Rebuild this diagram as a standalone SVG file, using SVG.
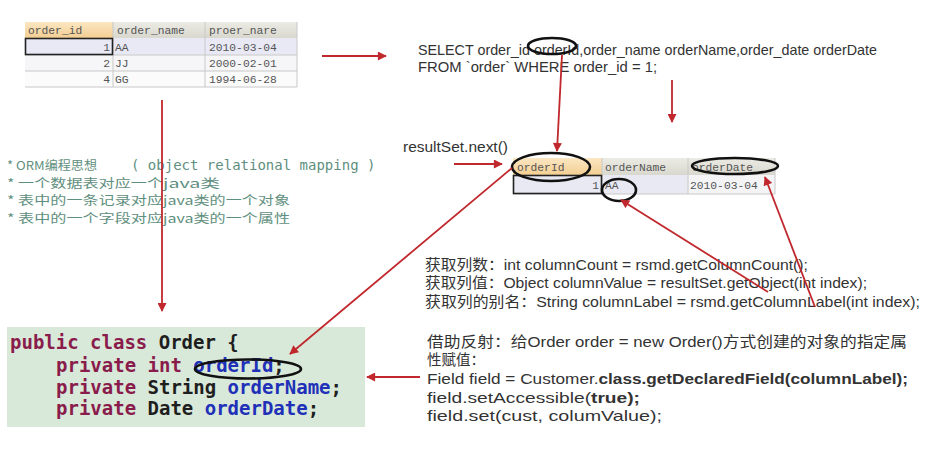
<svg xmlns="http://www.w3.org/2000/svg" width="926" height="467" viewBox="0 0 926 467">
<defs>
  <marker id="ah" viewBox="0 0 10 10" refX="9" refY="5" markerWidth="10" markerHeight="9" markerUnits="userSpaceOnUse" orient="auto">
    <path d="M0,0 L10,5 L0,10 z" fill="#c0282d"/>
  </marker>
  <linearGradient id="og" x1="0" y1="0" x2="0" y2="1">
    <stop offset="0" stop-color="#fbe6c2"/>
    <stop offset="1" stop-color="#f3cf92"/>
  </linearGradient>
  <linearGradient id="gg" x1="0" y1="0" x2="0" y2="1">
    <stop offset="0" stop-color="#ebebe4"/>
    <stop offset="1" stop-color="#d9d8cf"/>
  </linearGradient>
</defs>
<style>
  .tm { font-family: "Liberation Mono", "DejaVu Sans Mono", monospace; font-size: 11.3px; fill: #555; }
  .grid { fill: none; stroke: #c8c8c8; stroke-width: 1; }
  .sans { font-family: "Liberation Sans", "Noto Sans CJK SC", sans-serif; font-size: 14.5px; fill: #333; }
  .b { font-weight: bold; }
  .note { font-family: "DejaVu Sans Mono", "Noto Sans CJK SC", monospace; font-size: 14px; fill: #5f8f80; }
  .notecjk { font-family: "Noto Sans CJK SC", sans-serif; font-size: 12px; fill: #5f8f80; }
  .code { font-family: "DejaVu Sans Mono", "Liberation Mono", monospace; font-size: 19px; font-weight: bold; }
  .kw { fill: #8a1c4c; }
  .ty { fill: #1e1e1e; }
  .fd { fill: #2030b8; }
  .ell { fill: none; stroke: #111; stroke-width: 2.6; }
  .red { fill: none; stroke: #c0282d; stroke-width: 1.8; marker-end: url(#ah); }
</style>
<rect width="926" height="467" fill="#ffffff"/>

<g id="top-table">
  <rect x="25" y="22" width="88" height="16" fill="url(#og)"/>
  <rect x="113" y="22" width="92" height="16" fill="url(#gg)"/>
  <rect x="205" y="22" width="92" height="16" fill="url(#gg)"/>
  <rect x="25" y="38" width="272" height="17" fill="#e9e9f5"/>
  <rect x="25" y="55" width="272" height="16" fill="#f6f6f8"/>
  <rect x="25" y="71" width="272" height="16" fill="#fbfbfb"/>
  <path class="grid" d="M113,22 V87 M205,22 V87 M25,55 H297 M25,71 H297 M25,87 H297 M297,22 V87"/>
  <rect x="25.5" y="38.5" width="87" height="16" fill="none" stroke="#222" stroke-width="1.6"/>
  <text class="tm" x="28" y="34">order_id</text>
  <text class="tm" x="117" y="34">order_name</text>
  <text class="tm" x="209" y="34">proer_nare</text>
  <text class="tm" x="110" y="51" text-anchor="end">1</text>
  <text class="tm" x="115" y="51">AA</text>
  <text class="tm" x="209" y="51">2010-03-04</text>
  <text class="tm" x="110" y="67" text-anchor="end">2</text>
  <text class="tm" x="115" y="67">JJ</text>
  <text class="tm" x="209" y="67">2000-02-01</text>
  <text class="tm" x="110" y="83" text-anchor="end">4</text>
  <text class="tm" x="115" y="83">GG</text>
  <text class="tm" x="209" y="83">1994-06-28</text>
</g>

<g id="sql">
  <text class="sans" x="418" y="55" textLength="459" lengthAdjust="spacingAndGlyphs">SELECT order_id orderId,order_name orderName,order_date orderDate</text>
  <text class="sans" x="418" y="72" textLength="239" lengthAdjust="spacingAndGlyphs">FROM `order` WHERE order_id = 1;</text>
  <ellipse class="ell" cx="552" cy="46" rx="24" ry="8"/>
</g>

<g id="resultset-label">
  <text class="sans" x="403" y="152" font-size="15" textLength="105" lengthAdjust="spacingAndGlyphs">resultSet.next()</text>
</g>

<g id="result-table">
  <rect x="513" y="158" width="89" height="17" fill="url(#og)"/>
  <rect x="602" y="158" width="86" height="17" fill="url(#gg)"/>
  <rect x="688" y="158" width="87" height="17" fill="url(#gg)"/>
  <rect x="513" y="175" width="175" height="19" fill="#e9e9f3"/>
  <rect x="688" y="175" width="87" height="19" fill="#f4f4f6"/>
  <path class="grid" d="M602,158 V194 M688,158 V194 M775,158 V194 M513,194 H775"/>
  <rect x="513.5" y="175.5" width="88" height="18" fill="none" stroke="#222" stroke-width="1.6"/>
  <text class="tm" x="517" y="171">orderId</text>
  <text class="tm" x="605" y="171">orderName</text>
  <text class="tm" x="692" y="171">orderDate</text>
  <text class="tm" x="599" y="189" text-anchor="end">1</text>
  <text class="tm" x="605" y="189">AA</text>
  <text class="tm" x="690" y="189">2010-03-04</text>
  <ellipse class="ell" cx="551" cy="167" rx="39" ry="14"/>
  <ellipse class="ell" cx="735" cy="166" rx="43" ry="8"/>
  <ellipse class="ell" cx="619" cy="190" rx="17" ry="11"/>
</g>

<g id="orm-notes">
  <text class="notecjk" x="7" y="170" font-size="13" textLength="90" lengthAdjust="spacingAndGlyphs">* ORM编程思想</text>
  <text class="note" x="131" y="170" xml:space="preserve">( object relational mapping )</text>
  <text class="notecjk" x="7" y="188" textLength="156" lengthAdjust="spacingAndGlyphs">* 一个数据表对应一个</text>
  <text class="notecjk" x="163" y="188" textLength="57" lengthAdjust="spacingAndGlyphs">java类</text>
  <text class="notecjk" x="7" y="205" textLength="156" lengthAdjust="spacingAndGlyphs">* 表中的一条记录对应</text>
  <text class="notecjk" x="163" y="205" textLength="127" lengthAdjust="spacingAndGlyphs">java类的一个对象</text>
  <text class="notecjk" x="7" y="223" textLength="156" lengthAdjust="spacingAndGlyphs">* 表中的一个字段对应</text>
  <text class="notecjk" x="163" y="223" textLength="127" lengthAdjust="spacingAndGlyphs">java类的一个属性</text>
</g>

<g id="order-class">
  <rect x="7" y="327" width="358" height="100" fill="#d9e9d9"/>
  <text class="code" x="10" y="349"><tspan class="kw">public class</tspan><tspan class="ty"> Order {</tspan></text>
  <text class="code" x="56" y="372"><tspan class="kw">private int</tspan><tspan class="fd"> orderId</tspan><tspan class="ty">;</tspan></text>
  <text class="code" x="56" y="394"><tspan class="kw">private</tspan><tspan class="ty"> String</tspan><tspan class="fd"> orderName</tspan><tspan class="ty">;</tspan></text>
  <text class="code" x="56" y="415"><tspan class="kw">private</tspan><tspan class="ty"> Date</tspan><tspan class="fd"> orderDate</tspan><tspan class="ty">;</tspan></text>
  <ellipse class="ell" cx="248" cy="369" rx="53" ry="9.5"/>
</g>

<g id="metadata-notes">
  <text class="sans" x="425" y="270" textLength="383" lengthAdjust="spacingAndGlyphs">获取列数：int columnCount = rsmd.getColumnCount();</text>
  <text class="sans" x="425" y="288" textLength="442" lengthAdjust="spacingAndGlyphs">获取列值：Object columnValue = resultSet.getObject(int index);</text>
  <text class="sans" x="425" y="307" textLength="495" lengthAdjust="spacingAndGlyphs">获取列的别名：String columnLabel = rsmd.getColumnLabel(int index);</text>
</g>

<g id="reflection-notes">
  <text class="sans" x="427" y="347" textLength="480" lengthAdjust="spacingAndGlyphs">借助反射：给Order order = new Order()方式创建的对象的指定属</text>
  <text class="sans" x="427" y="365">性赋值：</text>
  <text class="sans" x="427" y="384" textLength="481" lengthAdjust="spacingAndGlyphs">Field field = Customer.<tspan class="b">class.getDeclaredField(columnLabel);</tspan></text>
  <text class="sans" x="427" y="403" textLength="213" lengthAdjust="spacingAndGlyphs">field.setAccessible(<tspan class="b">true);</tspan></text>
  <text class="sans" x="427" y="421" textLength="235" lengthAdjust="spacingAndGlyphs">field.set(cust, columValue);</text>
</g>

<g id="connectors">
  <line class="red" x1="322" y1="56" x2="386" y2="56"/>
  <line class="red" x1="162" y1="100" x2="162" y2="311"/>
  <line class="red" x1="562" y1="55" x2="557" y2="151"/>
  <line class="red" x1="672" y1="80" x2="672" y2="122"/>
  <line class="red" x1="454" y1="164" x2="502" y2="164"/>
  <line class="red" x1="512" y1="168" x2="290" y2="354"/>
  <line class="red" x1="768" y1="292" x2="621" y2="200"/>
  <line class="red" x1="815" y1="307" x2="765" y2="177"/>
  <line class="red" x1="420" y1="377" x2="367" y2="377"/>
</g>
</svg>
